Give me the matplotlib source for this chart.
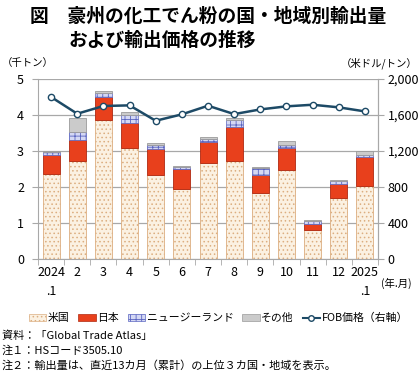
import numpy as np
import matplotlib.pyplot as plt
from matplotlib.lines import Line2D
from matplotlib.patches import Patch
from matplotlib.ticker import FuncFormatter

plt.rcParams['font.family'] = ['Noto Sans CJK JP', 'DejaVu Sans']
plt.rcParams['hatch.linewidth'] = 0.6

# data (thousand tonnes, USD/tonne)
months = ["2024\n.1", "2", "3", "4", "5", "6", "7", "8", "9", "10", "11", "12", "2025\n.1"]
usa = [2.36, 2.73, 3.85, 3.08, 2.32, 1.94, 2.68, 2.73, 1.83, 2.48, 0.81, 1.69, 2.03]
japan = [0.52, 0.57, 0.64, 0.71, 0.74, 0.56, 0.57, 0.93, 0.51, 0.59, 0.16, 0.40, 0.80]
nz = [0.08, 0.22, 0.12, 0.20, 0.11, 0.05, 0.08, 0.21, 0.20, 0.11, 0.09, 0.08, 0.06]
other = [0.03, 0.39, 0.06, 0.08, 0.05, 0.03, 0.06, 0.04, 0.02, 0.10, 0.03, 0.03, 0.11]
fob = [1800, 1614, 1700, 1707, 1536, 1607, 1703, 1610, 1662, 1696, 1714, 1685, 1640]

series_names = ["米国", "日本", "ニュージーランド", "その他"]

x = np.arange(len(months))
w = 0.65

fig = plt.figure(figsize=(4.2, 3.75), dpi=100)
ax = fig.add_axes([38 / 420, 116 / 375, 340 / 420, 180 / 375])

grid_c = "#a8a8a8"
us_face, us_hatch = "#fbf1e2", "#dcae80"
jp_face, jp_edge = "#e8401c", "#b02810"
nz_face, nz_hatch = "#d4d8f4", "#5a64c0"
ot_face, ot_edge = "#cbcbcb", "#9a9a9a"
line_c = "#1d4a66"

bottom = np.zeros(len(x))
ax.bar(x, usa, w, bottom=bottom, color=us_face, edgecolor=us_hatch, hatch="....", linewidth=0.6, zorder=2)
bottom += usa
ax.bar(x, japan, w, bottom=bottom, color=jp_face, edgecolor=jp_edge, linewidth=0.6, zorder=2)
bottom += japan
ax.bar(x, nz, w, bottom=bottom, color=nz_face, edgecolor=nz_hatch, hatch="+++", linewidth=0.5, zorder=2)
bottom += nz
ax.bar(x, other, w, bottom=bottom, color=ot_face, edgecolor=ot_edge, linewidth=0.6, zorder=2)

ax.set_ylim(0, 5)
ax.set_xlim(-0.5, len(x) - 0.5)
ax.set_yticks(range(6))
ax.yaxis.grid(True, color=grid_c, linewidth=0.9, zorder=0)
ax.set_axisbelow(True)
ax.set_xticks(x)
ax.set_xticklabels(months, fontsize=9, linespacing=1.6, va="top")
ax.set_xticks(np.arange(-0.5, len(x)), minor=True)
ax.tick_params(axis="x", which="major", length=0, pad=5)
ax.tick_params(axis="x", which="minor", length=4, color=grid_c)
ax.tick_params(axis="y", length=4, color=grid_c, labelsize=9, pad=6)
ax.spines["top"].set_visible(False)
for s in ["left", "right", "bottom"]:
    ax.spines[s].set_color(grid_c)

ax2 = ax.twinx()
ax2.plot(x, fob, color=line_c, linewidth=1.8, marker="o", markersize=4.5,
         markerfacecolor="white", markeredgecolor=line_c, markeredgewidth=1, zorder=3)
ax2.set_ylim(0, 2000)
ax2.set_yticks(range(0, 2001, 400))
ax2.yaxis.set_major_formatter(FuncFormatter(lambda v, p: f"{int(v):,}"))
ax2.tick_params(axis="y", length=4, color=grid_c, labelsize=9, pad=3)
for s in ["top", "left", "bottom"]:
    ax2.spines[s].set_visible(False)
ax2.spines["right"].set_color(grid_c)

# titles and units
fig.text(30 / 420, 1 - 16 / 375, "図　豪州の化工でん粉の国・地域別輸出量", fontsize=13.5,
         fontweight="bold", va="center", ha="left")
fig.text(68 / 420, 1 - 40 / 375, "および輸出価格の推移", fontsize=13.5,
         fontweight="bold", va="center", ha="left")
fig.text(2 / 420, 1 - 63 / 375, "（千トン）", fontsize=7.5, va="center", ha="left")
fig.text(418 / 420, 1 - 63 / 375, "（米ドル/トン）", fontsize=7.5, va="center", ha="right")
fig.text(381 / 420, 1 - 283 / 375, "(年.月)", fontsize=7.5, va="center", ha="left")

handles = [
    Patch(facecolor=us_face, edgecolor=us_hatch, hatch="....", linewidth=0.5),
    Patch(facecolor=jp_face, edgecolor=jp_edge, linewidth=0.5),
    Patch(facecolor=nz_face, edgecolor=nz_hatch, hatch="+++", linewidth=0.5),
    Patch(facecolor=ot_face, edgecolor=ot_edge, linewidth=0.5),
    Line2D([], [], color=line_c, linewidth=1.5, marker="o", markersize=4,
           markerfacecolor="white", markeredgecolor=line_c),
]
labels = series_names + ["FOB価格（右軸）"]
fig.legend(handles, labels, loc="center", bbox_to_anchor=(0.52, 1 - 318 / 375), ncol=5,
           frameon=False, fontsize=7.8, handlelength=1.6, handleheight=0.6,
           handletextpad=0.15, columnspacing=0.8)

notes = ["資料：「Global Trade Atlas」", "注１：HSコード3505.10",
         "注２：輸出量は、直近13カ月（累計）の上位３カ国・地域を表示。"]
for i, t in enumerate(notes):
    fig.text(2 / 420, 1 - (336 + 14.5 * i) / 375, t, fontsize=8, va="center", ha="left")

fig.savefig("out.png", dpi=100)
